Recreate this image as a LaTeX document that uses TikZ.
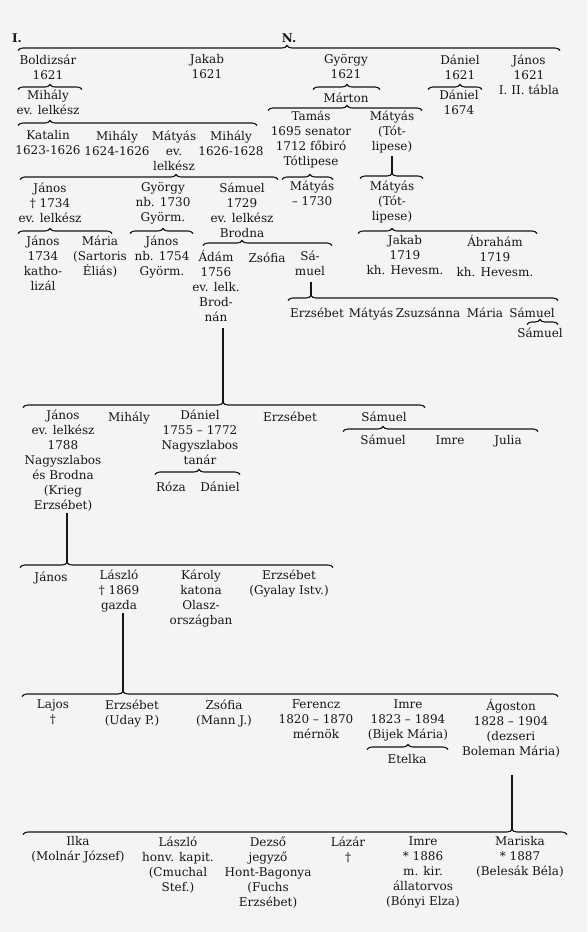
\documentclass[tikz,border=0pt]{standalone}
\usepackage{fontspec}
\setmainfont{DejaVu Serif}
\usetikzlibrary{decorations.pathreplacing, calc}
\definecolor{paper}{HTML}{F4F4F4}
\definecolor{ink}{HTML}{161616}

% brace over a group of children: name, from, to, tip, height of the line
\newcommand\clan[5]{%
  \pgfmathsetmacro\clanaspect{(#4-#2)/(#3-#2)}%
  \draw[kin=\clanaspect] (#2,#5+2.5) -- (#3,#5+2.5);
  \coordinate (#1) at (#4,#5-2.5);}

\begin{document}
\begin{tikzpicture}[x=1pt, y=-1pt,
  pers/.style={anchor=north, inner sep=0pt, align=center, yshift=7.6pt, text=ink,
               font=\fontsize{12}{15}\selectfont,
               execute at begin node=\rule{0pt}{12pt}},
  head/.style={pers, font=\fontsize{12}{15}\selectfont\bfseries},
  kin/.style={decorate, decoration={brace, amplitude=5pt, aspect=#1},
              draw=ink, line width=1.1pt},
  stem/.style={draw=ink, line width=1.2pt}
]
\fill[paper] (0,0) rectangle (587,932);
\useasboundingbox (0,0) rectangle (587,932);

% table heading
\node[head] (tabI) at (17,38) {I.};
\node[head] (tabN) at (289,38) {N.};

% first generation
\node[pers] (boldizsar) at (48,62)  {Boldizsár\\1621};
\node[pers] (jakab)     at (207,62) {Jakab\\1621};
\node[pers] (gyorgy)    at (346,62) {György\\1621};
\node[pers] (daniel)    at (460,62) {Dániel\\1621};
\node[pers] (janos)     at (529,62) {János\\1621\\I. II. tábla};

\node[pers] (mihaly)  at (48,97.5)  {Mihály\\ev. lelkész};
\node[pers] (marton)  at (346,97.5) {Márton};
\node[pers] (daniel2) at (459,97.5) {Dániel\\1674};

\node[pers] (katalin) at (48,138)  {Katalin\\1623-1626};
\node[pers] (mihaly2) at (117,138) {Mihály\\1624-1626};
\node[pers] (matyas)  at (174,138) {Mátyás\\ev.\\lelkész};
\node[pers] (mihaly3) at (231,138) {Mihály\\1626-1628};
\node[pers] (tamas)   at (311,118) {Tamás\\1695 senator\\1712 főbiró\\Tótlipese};
\node[pers] (matyast) at (392,118) {Mátyás\\(Tót-\\lipese)};

\node[pers] (janos2)   at (50,190)  {János\\† 1734\\ev. lelkész};
\node[pers] (gyorgy2)  at (163,190) {György\\nb. 1730\\Györm.};
\node[pers] (samuel)   at (242,190) {Sámuel\\1729\\ev. lelkész\\Brodna};
\node[pers] (matyas2)  at (312,188) {Mátyás\\– 1730};
\node[pers] (matyast2) at (392,188) {Mátyás\\(Tót-\\lipese)};

\node[pers] (janos3)   at (43,243)  {János\\1734\\katho-\\lizál};
\node[pers] (maria)    at (100,243) {Mária\\(Sartoris\\Éliás)};
\node[pers] (janos4)   at (162,243) {János\\nb. 1754\\Györm.};
\node[pers] (adam)     at (216,258) {Ádám\\1756\\ev. lelk.\\Brod-\\nán};
\node[pers] (zsofia)   at (267,258) {Zsófia};
\node[pers] (samuelsa) at (310,258) {Sá-\\muel};
\node[pers] (jakab2)   at (405,243) {Jakab\\1719\\kh. Hevesm.};
\node[pers] (abraham)  at (495,243) {Ábrahám\\1719\\kh. Hevesm.};

\node[pers] (erzs1)   at (317,313) {Erzsébet};
\node[pers] (matyas3) at (371,313) {Mátyás};
\node[pers] (zsuzsa)  at (428,313) {Zsuzsánna};
\node[pers] (maria2)  at (485,313) {Mária};
\node[pers] (samuel4) at (532,313) {Sámuel};
\node[pers] (samuel5) at (540,333) {Sámuel};

% later generations
\node[pers] (janos5)  at (63,417)  {János\\ev. lelkész\\1788\\Nagyszlabos\\és Brodna\\(Krieg\\Erzsébet)};
\node[pers] (mihaly4) at (129,417) {Mihály};
\node[pers] (daniel3) at (200,417) {Dániel\\1755 – 1772\\Nagyszlabos\\tanár};
\node[pers] (erzs2)   at (290,417) {Erzsébet};
\node[pers] (samuel3) at (384,417) {Sámuel};

\node[pers] (roza)    at (171,487) {Róza};
\node[pers] (daniel4) at (220,487) {Dániel};
\node[pers] (samuel6) at (383,440) {Sámuel};
\node[pers] (imre0)   at (450,440) {Imre};
\node[pers] (julia)   at (508,440) {Julia};

\node[pers] (janos6) at (51,577)  {János};
\node[pers] (laszlo) at (119,577) {László\\† 1869\\gazda};
\node[pers] (karoly) at (201,577) {Károly\\katona\\Olasz-\\országban};
\node[pers] (erzs3)  at (289,577) {Erzsébet\\(Gyalay Istv.)};

\node[pers] (lajos)   at (53,707)  {Lajos\\†};
\node[pers] (erzs4)   at (132,707) {Erzsébet\\(Uday P.)};
\node[pers] (zsofia2) at (224,707) {Zsófia\\(Mann J.)};
\node[pers] (ferencz) at (316,707) {Ferencz\\1820 – 1870\\mérnök};
\node[pers] (imre)    at (408,707) {Imre\\1823 – 1894\\(Bijek Mária)};
\node[pers] (agoston) at (511,707) {Ágoston\\1828 – 1904\\(dezseri\\Boleman Mária)};
\node[pers] (etelka)  at (407,759) {Etelka};

\node[pers] (ilka)    at (78,844)  {Ilka\\(Molnár József)};
\node[pers] (laszlo2) at (178,844) {László\\honv. kapit.\\(Cmuchal\\Stef.)};
\node[pers] (dezso)   at (268,844) {Dezső\\jegyző\\Hont-Bagonya\\(Fuchs\\Erzsébet)};
\node[pers] (lazar)   at (348,844) {Lázár\\†};
\node[pers] (imre2)   at (423,844) {Imre\\* 1886\\m. kir.\\állatorvos\\(Bónyi Elza)};
\node[pers] (mariska) at (520,844) {Mariska\\* 1887\\(Belesák Béla)};

% braces
\clan{b0}{18}{560}{287}{48}
\clan{b1}{18}{82}{50}{87}
\clan{b2}{313}{380}{347}{87}
\clan{b3}{428}{482}{460}{87}
\clan{b4}{18}{257}{50}{123}
\clan{b5}{268}{422}{347}{108}
\clan{b6}{20}{278}{176}{177}
\clan{b7}{282}{333}{310}{177}
\clan{b8}{360}{423}{392}{176}
\clan{b9}{18}{112}{50}{231}
\clan{b10}{130}{193}{163}{231}
\clan{b11}{203}{332}{242}{243}
\clan{b12}{358}{537}{392}{231}
\clan{b13}{288}{558}{311}{298}
\clan{b14}{527}{558}{540}{322}
\clan{b15}{23}{425}{223}{405}
\clan{b16}{155}{240}{199}{472}
\clan{b17}{343}{538}{383}{429}
\clan{b18}{20}{333}{67}{565}
\clan{b19}{22}{558}{123}{694}
\clan{b20}{367}{448}{408}{747}
\clan{b21}{23}{567}{512}{832}

% stems
\draw[stem] ($(matyast.south -| b8)+(0,3)$) -- (b8);
\draw[stem] ($(samuelsa.south -| b13)+(0,6)$) -- (b13);
\draw[stem] ($(adam.south -| b15)+(0,6)$) -- (b15);
\draw[stem] ($(janos5.south -| b18)+(0,2)$) -- (b18);
\draw[stem] ($(laszlo.south -| b19)+(0,1)$) -- (b19);
\draw[stem] ($(agoston.south -| b21)+(0,17)$) -- (b21);
\end{tikzpicture}
\end{document}
